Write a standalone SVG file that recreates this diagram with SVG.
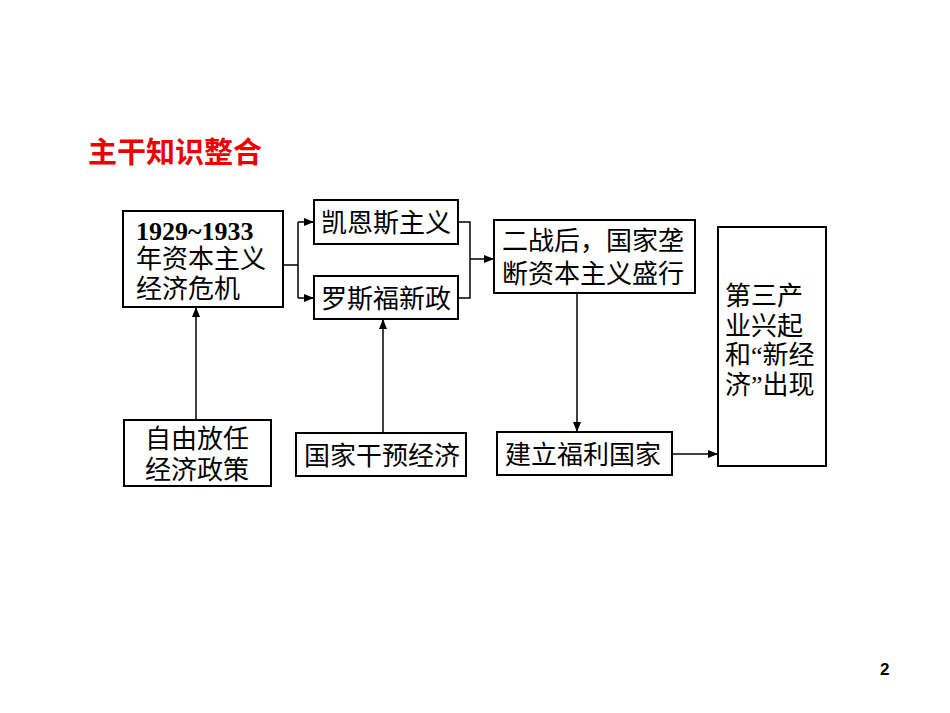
<svg xmlns="http://www.w3.org/2000/svg" width="950" height="713" viewBox="0 0 950 713">
<style>
.b{fill:#fff;stroke:#000;stroke-width:2}
.t{font-family:"Liberation Serif","Noto Sans CJK SC",serif;font-size:26px;fill:#000}
.c{fill:none;stroke:#000;stroke-width:1.5}
</style>
<defs><marker id="a" markerWidth="10" markerHeight="8" refX="10" refY="4" orient="auto" markerUnits="userSpaceOnUse"><path d="M0,0L10,4L0,8z" fill="#000"/></marker></defs>
<rect width="950" height="713" fill="#fff"/>
<text x="88" y="163" font-family="'Noto Sans CJK SC',sans-serif" font-size="29" font-weight="bold" fill="#e00">主干知识整合</text>
<text x="880" y="675" font-family="'Liberation Sans',sans-serif" font-size="17" font-weight="bold">2</text>
<g id="crisis"><rect class="b" x="123" y="211" width="160" height="96"/><text class="t" x="136" y="240" font-weight="bold">1929~1933</text><text class="t" x="136" y="268">年资本主义</text><text class="t" x="136" y="298">经济危机</text></g>
<g id="keynes"><rect class="b" x="314" y="200" width="144" height="44"/><text class="t" x="321" y="232">凯恩斯主义</text></g>
<g id="roosevelt"><rect class="b" x="314" y="276" width="144" height="43"/><text class="t" x="321" y="308">罗斯福新政</text></g>
<g id="postwar"><rect class="b" x="494" y="220" width="201" height="73"/><text class="t" x="502" y="250">二战后，国家垄</text><text class="t" x="502" y="283">断资本主义盛行</text></g>
<g id="tertiary"><rect class="b" x="718" y="227" width="108" height="239"/><text class="t" x="725" y="305">第三产</text><text class="t" x="725" y="335">业兴起</text><text class="t" x="725" y="364">和“新经</text><text class="t" x="725" y="394">济”出现</text></g>
<g id="laissez"><rect class="b" x="124" y="420" width="147" height="66"/><text class="t" x="145" y="448">自由放任</text><text class="t" x="145" y="479">经济政策</text></g>
<g id="intervention"><rect class="b" x="296" y="433" width="170" height="43"/><text class="t" x="304" y="465">国家干预经济</text></g>
<g id="welfare"><rect class="b" x="497" y="432" width="175" height="43"/><text class="t" x="505" y="464">建立福利国家</text></g>
<g id="connectors">
<path class="c" d="M283,265H298M298,222V298"/>
<path class="c" d="M298,222H314" marker-end="url(#a)"/>
<path class="c" d="M298,298H314" marker-end="url(#a)"/>
<path class="c" d="M458,222H470V298H458"/>
<path class="c" d="M470,259H494" marker-end="url(#a)"/>
<path class="c" d="M196,420V307" marker-end="url(#a)"/>
<path class="c" d="M383,433V319" marker-end="url(#a)"/>
<path class="c" d="M577,293V432" marker-end="url(#a)"/>
<path class="c" d="M672,454H718" marker-end="url(#a)"/>
</g>
</svg>
